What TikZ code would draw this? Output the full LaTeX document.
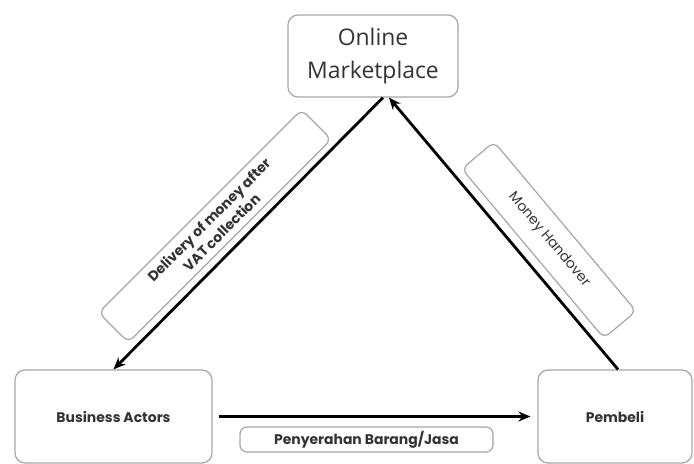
\documentclass[tikz,border=0pt]{standalone}
\usepackage{fontspec}
\setmainfont{Poppins}
\newfontfamily\headfont{Open Sans}
\usepackage{tikz}
\usetikzlibrary{arrows.meta}

\tikzset{
  box/.style={draw=gray!70, line width=1.2bp, rounded corners=10bp, fill=white, text=black!80},
  tag/.style={draw=gray!70, line width=1.2bp, rounded corners=7bp, fill=white, text=black!80,
    font=\fontsize{14}{18}\selectfont\bfseries, align=center, inner sep=0pt},
}

\begin{document}
\begin{tikzpicture}[x=1bp,y=-1bp]
\useasboundingbox (0,0) rectangle (694,464);
\begin{scope}[every node/.style={box}]
    \node[minimum width=170bp, minimum height=82bp, align=center, font=\headfont\fontsize{23}{33}\selectfont] (market) at (373,56) {Online\\Marketplace};
    \node[minimum width=197bp, minimum height=93bp, font=\fontsize{14}{16}\selectfont\bfseries] (actors) at (113.5,416.5) {Business Actors};
    \node[minimum width=154bp, minimum height=93bp, font=\fontsize{14}{16}\selectfont\bfseries] (buyer) at (615,416.5) {Pembeli};
\end{scope}

\begin{scope}
    \node[tag, rotate=45, minimum width=287bp, minimum height=42bp] (deliv) at (215,226) {Delivery of money after\\VAT collection};
    \node[tag, rotate=-50, minimum width=221bp, minimum height=42bp, font=\fontsize{14}{16}\selectfont] (hand) at (549,240) {Money Handover};
    \node[tag, minimum width=253bp, minimum height=25bp] (goods) at (366.5,439.5) {Penyerahan Barang/Jasa};
\end{scope}

\begin{scope}[>={Stealth[black, length=12bp, width=10bp]}, every edge/.style={draw=black, line width=2.8bp}]
    \path [->] ([xshift=10bp]market.south) edge (actors.north);
    \path [->] ([xshift=3bp]buyer.north) edge ([xshift=16bp]market.south);
    \path [->] ([xshift=6bp]actors.east) edge ([xshift=-7bp]buyer.west);
\end{scope}
\end{tikzpicture}
\end{document}
